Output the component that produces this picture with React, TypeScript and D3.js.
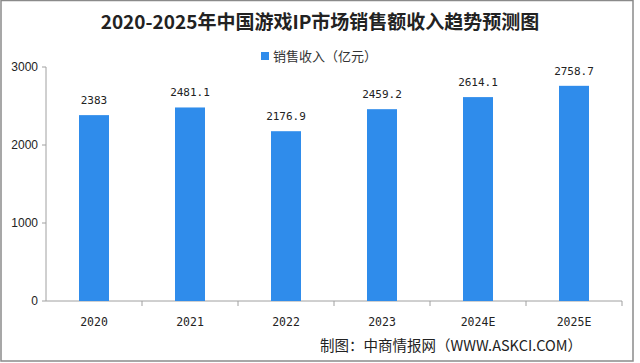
import React from 'react';
import * as d3 from 'd3';

const years = ['2020', '2021', '2022', '2023', '2024E', '2025E'];
const revenue = [2383, 2481.1, 2176.9, 2459.2, 2614.1, 2758.7];
const revenueLabels = ['2383', '2481.1', '2176.9', '2459.2', '2614.1', '2758.7'];
const yTicks = [0, 1000, 2000, 3000];

const App: React.FC = () => {
  const ref = React.useRef<SVGSVGElement>(null);

  React.useEffect(() => {
    const svg = d3.select(ref.current);
    svg.selectAll('*').remove();

    const W = 640;
    const H = 363;
    const left = 46;
    const right = 622;
    const top = 67;
    const bottom = 301;

    svg.append('rect').attr('width', W).attr('height', H).attr('fill', '#fff');
    svg
      .append('rect')
      .attr('x', 1)
      .attr('y', 0.5)
      .attr('width', 632)
      .attr('height', 360.5)
      .attr('fill', 'none')
      .attr('stroke', '#8a8a8a')
      .attr('stroke-width', 1.5);

    const x = d3.scaleBand<string>().domain(years).range([left, right]);
    const y = d3.scaleLinear().domain([0, 3000]).range([bottom, top]);
    const barW = 30;

    // title
    svg
      .append('text')
      .attr('x', 320)
      .attr('y', 29)
      .attr('text-anchor', 'middle')
      .attr('font-family', '"Noto Sans CJK SC", sans-serif')
      .attr('font-weight', 'bold')
      .attr('font-size', 19)
      .attr('fill', '#222')
      .text('2020-2025年中国游戏IP市场销售额收入趋势预测图');

    // legend
    svg.append('rect').attr('x', 261).attr('y', 52).attr('width', 8).attr('height', 8).attr('fill', '#2f8ceb');
    svg
      .append('text')
      .attr('x', 273)
      .attr('y', 61)
      .attr('font-family', '"Noto Sans CJK SC", sans-serif')
      .attr('font-size', 13)
      .attr('fill', '#333')
      .text('销售收入（亿元）');

    // y axis
    const axisColor = '#a0a0a0';
    svg.append('line').attr('x1', left).attr('x2', left).attr('y1', top).attr('y2', bottom).attr('stroke', axisColor);
    yTicks.forEach((t) => {
      svg.append('line').attr('x1', left - 4).attr('x2', left).attr('y1', y(t)).attr('y2', y(t)).attr('stroke', axisColor);
      svg
        .append('text')
        .attr('x', 38)
        .attr('y', y(t) + 4)
        .attr('text-anchor', 'end')
        .attr('font-family', 'Liberation Sans, Arial, sans-serif')
        .attr('font-size', 12)
        .attr('fill', '#222')
        .text(String(t));
    });

    // x axis
    svg.append('line').attr('x1', left).attr('x2', right).attr('y1', bottom).attr('y2', bottom).attr('stroke', axisColor);
    years.forEach((yr) => {
      const bx = (x(yr) as number) + x.bandwidth();
      svg.append('line').attr('x1', bx).attr('x2', bx).attr('y1', bottom).attr('y2', bottom + 5).attr('stroke', axisColor);
    });

    // bars
    svg
      .selectAll('rect.bar')
      .data(revenue)
      .enter()
      .append('rect')
      .attr('class', 'bar')
      .attr('x', (_d, i) => (x(years[i]) as number) + x.bandwidth() / 2 - barW / 2)
      .attr('y', (d) => y(d))
      .attr('width', barW)
      .attr('height', (d) => bottom - y(d))
      .attr('fill', '#2f8ceb');

    // value labels
    svg
      .selectAll('text.val')
      .data(revenue)
      .enter()
      .append('text')
      .attr('class', 'val')
      .attr('x', (_d, i) => (x(years[i]) as number) + x.bandwidth() / 2)
      .attr('y', (d) => y(d) - 11)
      .attr('text-anchor', 'middle')
      .attr('font-family', '"DejaVu Sans Mono", monospace')
      .attr('font-size', 11)
      .attr('fill', '#222')
      .text((_d, i) => revenueLabels[i]);

    // category labels
    years.forEach((yr) => {
      svg
        .append('text')
        .attr('x', (x(yr) as number) + x.bandwidth() / 2)
        .attr('y', 326)
        .attr('text-anchor', 'middle')
        .attr('font-family', '"DejaVu Sans Mono", monospace')
        .attr('font-size', 11.5)
        .attr('fill', '#222')
        .text(yr);
    });

    // source
    svg
      .append('text')
      .attr('x', 582)
      .attr('y', 351)
      .attr('text-anchor', 'end')
      .attr('font-family', '"Noto Sans CJK SC", sans-serif')
      .attr('font-size', 14.5)
      .attr('fill', '#222')
      .text('制图：中商情报网（WWW.ASKCI.COM）');
  }, []);

  return <svg ref={ref} width={640} height={363} style={{ position: 'absolute', left: 0, top: 0 }} />;
};

export default App;
